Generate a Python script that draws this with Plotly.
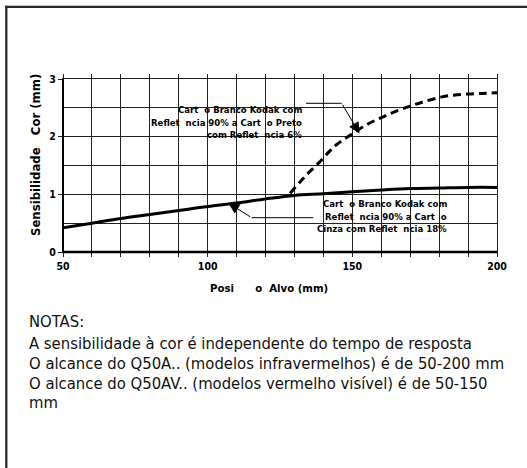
import plotly.graph_objects as go

# ---------------- data ----------------
gray_x = [50, 60, 70, 80, 90, 100, 110, 120, 130, 140, 150, 160, 170, 180, 190, 200]
gray_y = [0.42, 0.50, 0.58, 0.65, 0.72, 0.79, 0.85, 0.92, 0.98, 1.01, 1.045, 1.075, 1.10, 1.11, 1.12, 1.12]

black_x = [128.5, 132, 135, 138.5, 142, 144.5, 147, 150, 155, 160, 165, 170, 175, 181, 185, 190, 195, 200]
black_y = [1.02, 1.22, 1.38, 1.55, 1.74, 1.86, 1.95, 2.05, 2.21, 2.33, 2.44, 2.53, 2.61, 2.69, 2.72, 2.74, 2.75, 2.76]

x_tick_vals = [50, 60, 70, 80, 90, 100, 110, 120, 130, 140, 150, 160, 170, 180, 190, 200]
x_tick_text = ["50", "", "", "", "", "100", "", "", "", "", "150", "", "", "", "", "200"]
y_tick_vals = [0, 1, 2, 3]
y_tick_text = ["0", "1", "2", "3"]
y_minor_vals = [0.5, 1.5, 2.5]

NB = "\u00a0"
label_black = ["Cart" + NB * 2 + "o Branco Kodak com",
               "Reflet" + NB * 2 + "ncia 90% a Cart" + NB * 2 + "o Preto",
               "com Reflet" + NB * 2 + "ncia 6%"]
label_gray = ["Cart" + NB * 2 + "o Branco Kodak com",
              "Reflet" + NB * 2 + "ncia 90% a Cart" + NB * 2 + "o",
              "Cinza com Reflet" + NB * 2 + "ncia 18%"]
x_title = "Posi" + NB * 6 + "o" + NB * 2 + "Alvo (mm)"
y_title = "Sensibilidade" + NB * 3 + "Cor (mm)"
notes = ["NOTAS:",
         "A sensibilidade à cor é independente do tempo de resposta",
         "O alcance do Q50A.. (modelos infravermelhos) é de 50-200 mm",
         "O alcance do Q50AV.. (modelos vermelho visível) é de 50-150",
         "mm"]

# ---------------- geometry (page pixels) ----------------
W, H = 527, 468
L, R, T, B = 63, 30, 79, 468 - 252
PW, PH = W - L - R, H - T - B
FONT = "DejaVu Sans Condensed, DejaVu Sans, sans-serif"


def px(xpix):
    return (xpix - L) / PW


def py(ypix):
    return (H - B - ypix) / PH


def fnt(size, bold=False, color="black"):
    d = dict(family=FONT, size=size, color=color)
    if bold:
        d["weight"] = "bold"
    return d


fig = go.Figure()
fig.add_trace(go.Scatter(x=gray_x, y=gray_y, mode="lines", line=dict(color="black", width=3, shape="spline"),
                         showlegend=False, hoverinfo="skip"))
fig.add_trace(go.Scatter(x=black_x, y=black_y, mode="lines",
                         line=dict(color="black", width=3, dash="8px,5px", shape="spline"),
                         showlegend=False, hoverinfo="skip"))

shapes = []
# outer frame (left and top edges; the others run past the page)
frame_line = dict(color="#2a2a2a", width=2.3)
shapes.append(dict(type="line", xref="paper", yref="paper", x0=px(6.3), x1=px(6.3), y0=py(470), y1=py(5.7),
                   line=frame_line, layer="above"))
shapes.append(dict(type="line", xref="paper", yref="paper", x0=px(5.2), x1=px(530), y0=py(6.8), y1=py(6.8),
                   line=frame_line, layer="above"))
# thick axis lines
shapes.append(dict(type="line", xref="paper", yref="paper", x0=0, x1=1, y0=0, y1=0,
                   line=dict(color="black", width=2.6), layer="above"))
shapes.append(dict(type="line", xref="paper", yref="paper", x0=0, x1=0, y0=0, y1=1,
                   line=dict(color="black", width=2), layer="above"))
# white label boxes
shapes.append(dict(type="rect", xref="paper", yref="paper", x0=px(151), x1=px(306), y0=py(140), y1=py(99.5),
                   line=dict(width=0), fillcolor="white", layer="between"))
shapes.append(dict(type="rect", xref="paper", yref="paper", x0=px(313), x1=px(452), y0=py(236), y1=py(196.5),
                   line=dict(width=0), fillcolor="white", layer="between"))
# leader lines (horizontal parts)
shapes.append(dict(type="line", xref="paper", yref="paper", x0=px(306), x1=px(341.7), y0=py(103.3), y1=py(103.3),
                   line=dict(color="black", width=1), layer="above"))
shapes.append(dict(type="line", xref="paper", yref="paper", x0=px(313.3), x1=px(251.7), y0=py(217.7), y1=py(217.7),
                   line=dict(color="black", width=1), layer="above"))

annotations = []
for t, ypix in zip(label_black, [109.3, 122.3, 134.3]):
    annotations.append(dict(text=t, xref="paper", yref="paper", x=px(304), y=py(ypix),
                            xanchor="right", yanchor="middle", showarrow=False, font=fnt(9.5, True)))
for t, ypix in zip(label_gray, [203, 216.3, 228.7]):
    annotations.append(dict(text=t, xref="paper", yref="paper", x=px(449), y=py(ypix),
                            xanchor="right", yanchor="middle", showarrow=False, font=fnt(9.5, True)))
# arrows (diagonal parts)
annotations.append(dict(text="", xref="paper", yref="paper", x=px(359.5), y=py(133.5),
                        axref="pixel", ayref="pixel", ax=341.7 - 359.5, ay=103.3 - 133.5,
                        showarrow=True, arrowhead=2, arrowsize=2.2, arrowwidth=1, arrowcolor="black"))
annotations.append(dict(text="", xref="paper", yref="paper", x=px(228.3), y=py(203.0),
                        axref="pixel", ayref="pixel", ax=251.7 - 228.3, ay=217.7 - 203.0,
                        showarrow=True, arrowhead=2, arrowsize=2.2, arrowwidth=1, arrowcolor="black"))
# axis titles
annotations.append(dict(text=x_title, xref="paper", yref="paper", x=px(268.5), y=py(288.3),
                        xanchor="center", yanchor="middle", showarrow=False, font=fnt(11.3, True)))
annotations.append(dict(text=y_title, xref="paper", yref="paper", x=px(35), y=py(155),
                        xanchor="center", yanchor="middle", showarrow=False, textangle=-90,
                        font=fnt(13, True)))
# notes
for t, ypix in zip(notes, [321.7, 343.3, 363.3, 383.3, 402.5]):
    annotations.append(dict(text=t, xref="paper", yref="paper", x=px(27), y=py(ypix),
                            xanchor="left", yanchor="middle", showarrow=False, font=fnt(16.5, False, "#111")))

fig.update_layout(
    width=W, height=H, margin=dict(l=L, r=R, t=T, b=B),
    paper_bgcolor="white", plot_bgcolor="white",
    shapes=shapes, annotations=annotations, showlegend=False,
    xaxis=dict(range=[50, 200], tickmode="array", tickvals=x_tick_vals, ticktext=x_tick_text,
               showgrid=True, gridcolor="#222", gridwidth=1, zeroline=False,
               showline=True, linecolor="#222", linewidth=1, mirror="ticks",
               ticks="outside", ticklen=4, tickwidth=1, tickcolor="#222",
               tickfont=fnt(10.5, True), fixedrange=True),
    yaxis=dict(range=[0, 3], tickmode="array", tickvals=y_tick_vals, ticktext=y_tick_text,
               showgrid=True, gridcolor="#222", gridwidth=1, zeroline=False,
               showline=True, linecolor="#222", linewidth=1, mirror=True,
               ticks="outside", ticklen=4, tickwidth=1, tickcolor="#222",
               minor=dict(tickmode="array", tickvals=y_minor_vals, showgrid=True, gridcolor="#222", gridwidth=1, ticks=""),
               tickfont=fnt(10.5, True), fixedrange=True),
)

fig.write_html("out.html", config={"displayModeBar": False},
               post_script="document.body.style.margin='0';document.body.style.overflow='hidden';")
